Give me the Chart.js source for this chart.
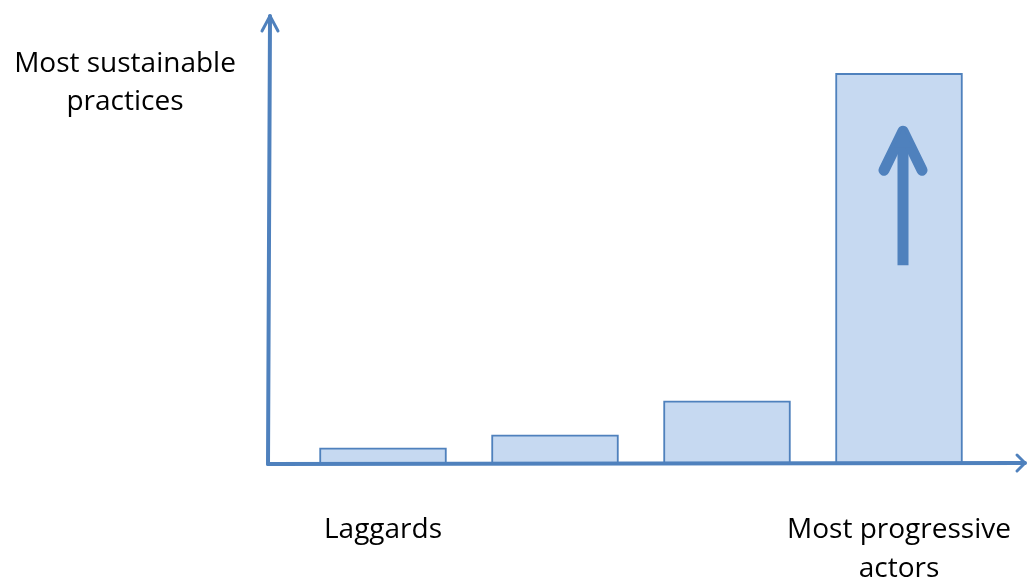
<!DOCTYPE html>
<html>
<head>
<meta charset="utf-8">
<script src="https://cdn.jsdelivr.net/npm/chart.js@4.4.0/dist/chart.umd.min.js"></script>
<style>
  html, body { margin: 0; padding: 0; background: #fff; }
  #wrap { width: 1028px; height: 581px; }
</style>
</head>
<body>
<div id="wrap"><canvas id="myChart"></canvas></div>
<script>
// categories along the x axis (only the two ends are named)
const categories = ['Laggards', '', '', ['Most progressive', 'actors']];
// bar heights, in % of the y range
const practiceLevel = [3.4, 6.3, 13.9, 87.2];
const yMax = 100;
const yTitle = ['Most sustainable', 'practices'];

const blue = '#4F81BD';
const fill = '#C6D9F1';
const fontName = '"Open Sans", Lato, sans-serif';

// axis arrows, the y title and the big arrow in the last bar
const decorations = {
  id: 'decorations',
  afterDatasetsDraw(chart) {
    const ctx = chart.ctx;
    const area = chart.chartArea;
    const x0 = area.left - 29;
    const y0 = area.bottom + 1;
    ctx.save();
    ctx.strokeStyle = blue;
    ctx.lineCap = 'round';
    ctx.lineJoin = 'round';

    // y axis with arrow head
    ctx.lineWidth = 4;
    ctx.beginPath();
    ctx.moveTo(x0, y0);
    ctx.lineTo(x0 + 2, area.top);
    ctx.stroke();
    ctx.lineWidth = 3;
    ctx.beginPath();
    ctx.moveTo(x0 - 6, area.top + 15);
    ctx.lineTo(x0 + 2, area.top);
    ctx.lineTo(x0 + 10, area.top + 15);
    ctx.stroke();

    // x axis with arrow head
    const xEnd = chart.width - 3;
    ctx.lineWidth = 4;
    ctx.beginPath();
    ctx.moveTo(x0, y0);
    ctx.lineTo(xEnd, y0 - 1);
    ctx.stroke();
    ctx.lineWidth = 3;
    ctx.beginPath();
    ctx.moveTo(xEnd - 8, y0 - 9);
    ctx.lineTo(xEnd, y0 - 1);
    ctx.lineTo(xEnd - 8, y0 + 7);
    ctx.stroke();

    // big arrow inside the last bar
    const bars = chart.getDatasetMeta(0).data;
    const last = bars[bars.length - 1];
    const ax = last.x + 4;
    const tip = last.y + 54;
    ctx.lineWidth = 11;
    ctx.lineCap = 'butt';
    ctx.beginPath();
    ctx.moveTo(ax, last.y + 192);
    ctx.lineTo(ax, tip + 8);
    ctx.stroke();
    ctx.lineCap = 'round';
    ctx.beginPath();
    ctx.moveTo(ax - 19, tip + 43);
    ctx.lineTo(ax, tip + 4);
    ctx.lineTo(ax + 19, tip + 43);
    ctx.stroke();
    ctx.fillStyle = blue;
    ctx.beginPath();
    ctx.moveTo(ax, tip);
    ctx.lineTo(ax - 9, tip + 20);
    ctx.lineTo(ax + 9, tip + 20);
    ctx.closePath();
    ctx.fill();

    // y axis title
    ctx.fillStyle = '#000';
    ctx.font = '28px ' + fontName;
    ctx.textAlign = 'center';
    ctx.textBaseline = 'alphabetic';
    ctx.fillText(yTitle[0], 125, 72);
    ctx.fillText(yTitle[1], 125, 110);
    ctx.restore();
  }
};

const ctx = document.getElementById('myChart').getContext('2d');
const chart = new Chart(ctx, {
  type: 'bar',
  data: {
    labels: categories,
    datasets: [{
      data: practiceLevel,
      backgroundColor: fill,
      borderColor: blue,
      borderWidth: 2,
      barThickness: 127
    }]
  },
  options: {
    responsive: true,
    maintainAspectRatio: false,
    animation: false,
    layout: { padding: { left: 297, right: 43, top: 16, bottom: 0 } },
    plugins: {
      legend: { display: false },
      tooltip: { enabled: false }
    },
    scales: {
      x: {
        grid: { display: false, drawTicks: false },
        border: { display: false },
        ticks: {
          color: '#000',
          padding: 47,
          maxRotation: 0,
          autoSkip: false,
          font: { family: fontName, size: 28, lineHeight: 1.4 }
        },
        // keep the plot area fixed, labels hang below it
        afterFit(scale) {
          scale.height = 118;
          scale.paddingLeft = 0;
          scale.paddingRight = 0;
        }
      },
      y: {
        display: false,
        min: 0,
        max: yMax
      }
    }
  },
  plugins: [decorations]
});
</script>
</body>
</html>
